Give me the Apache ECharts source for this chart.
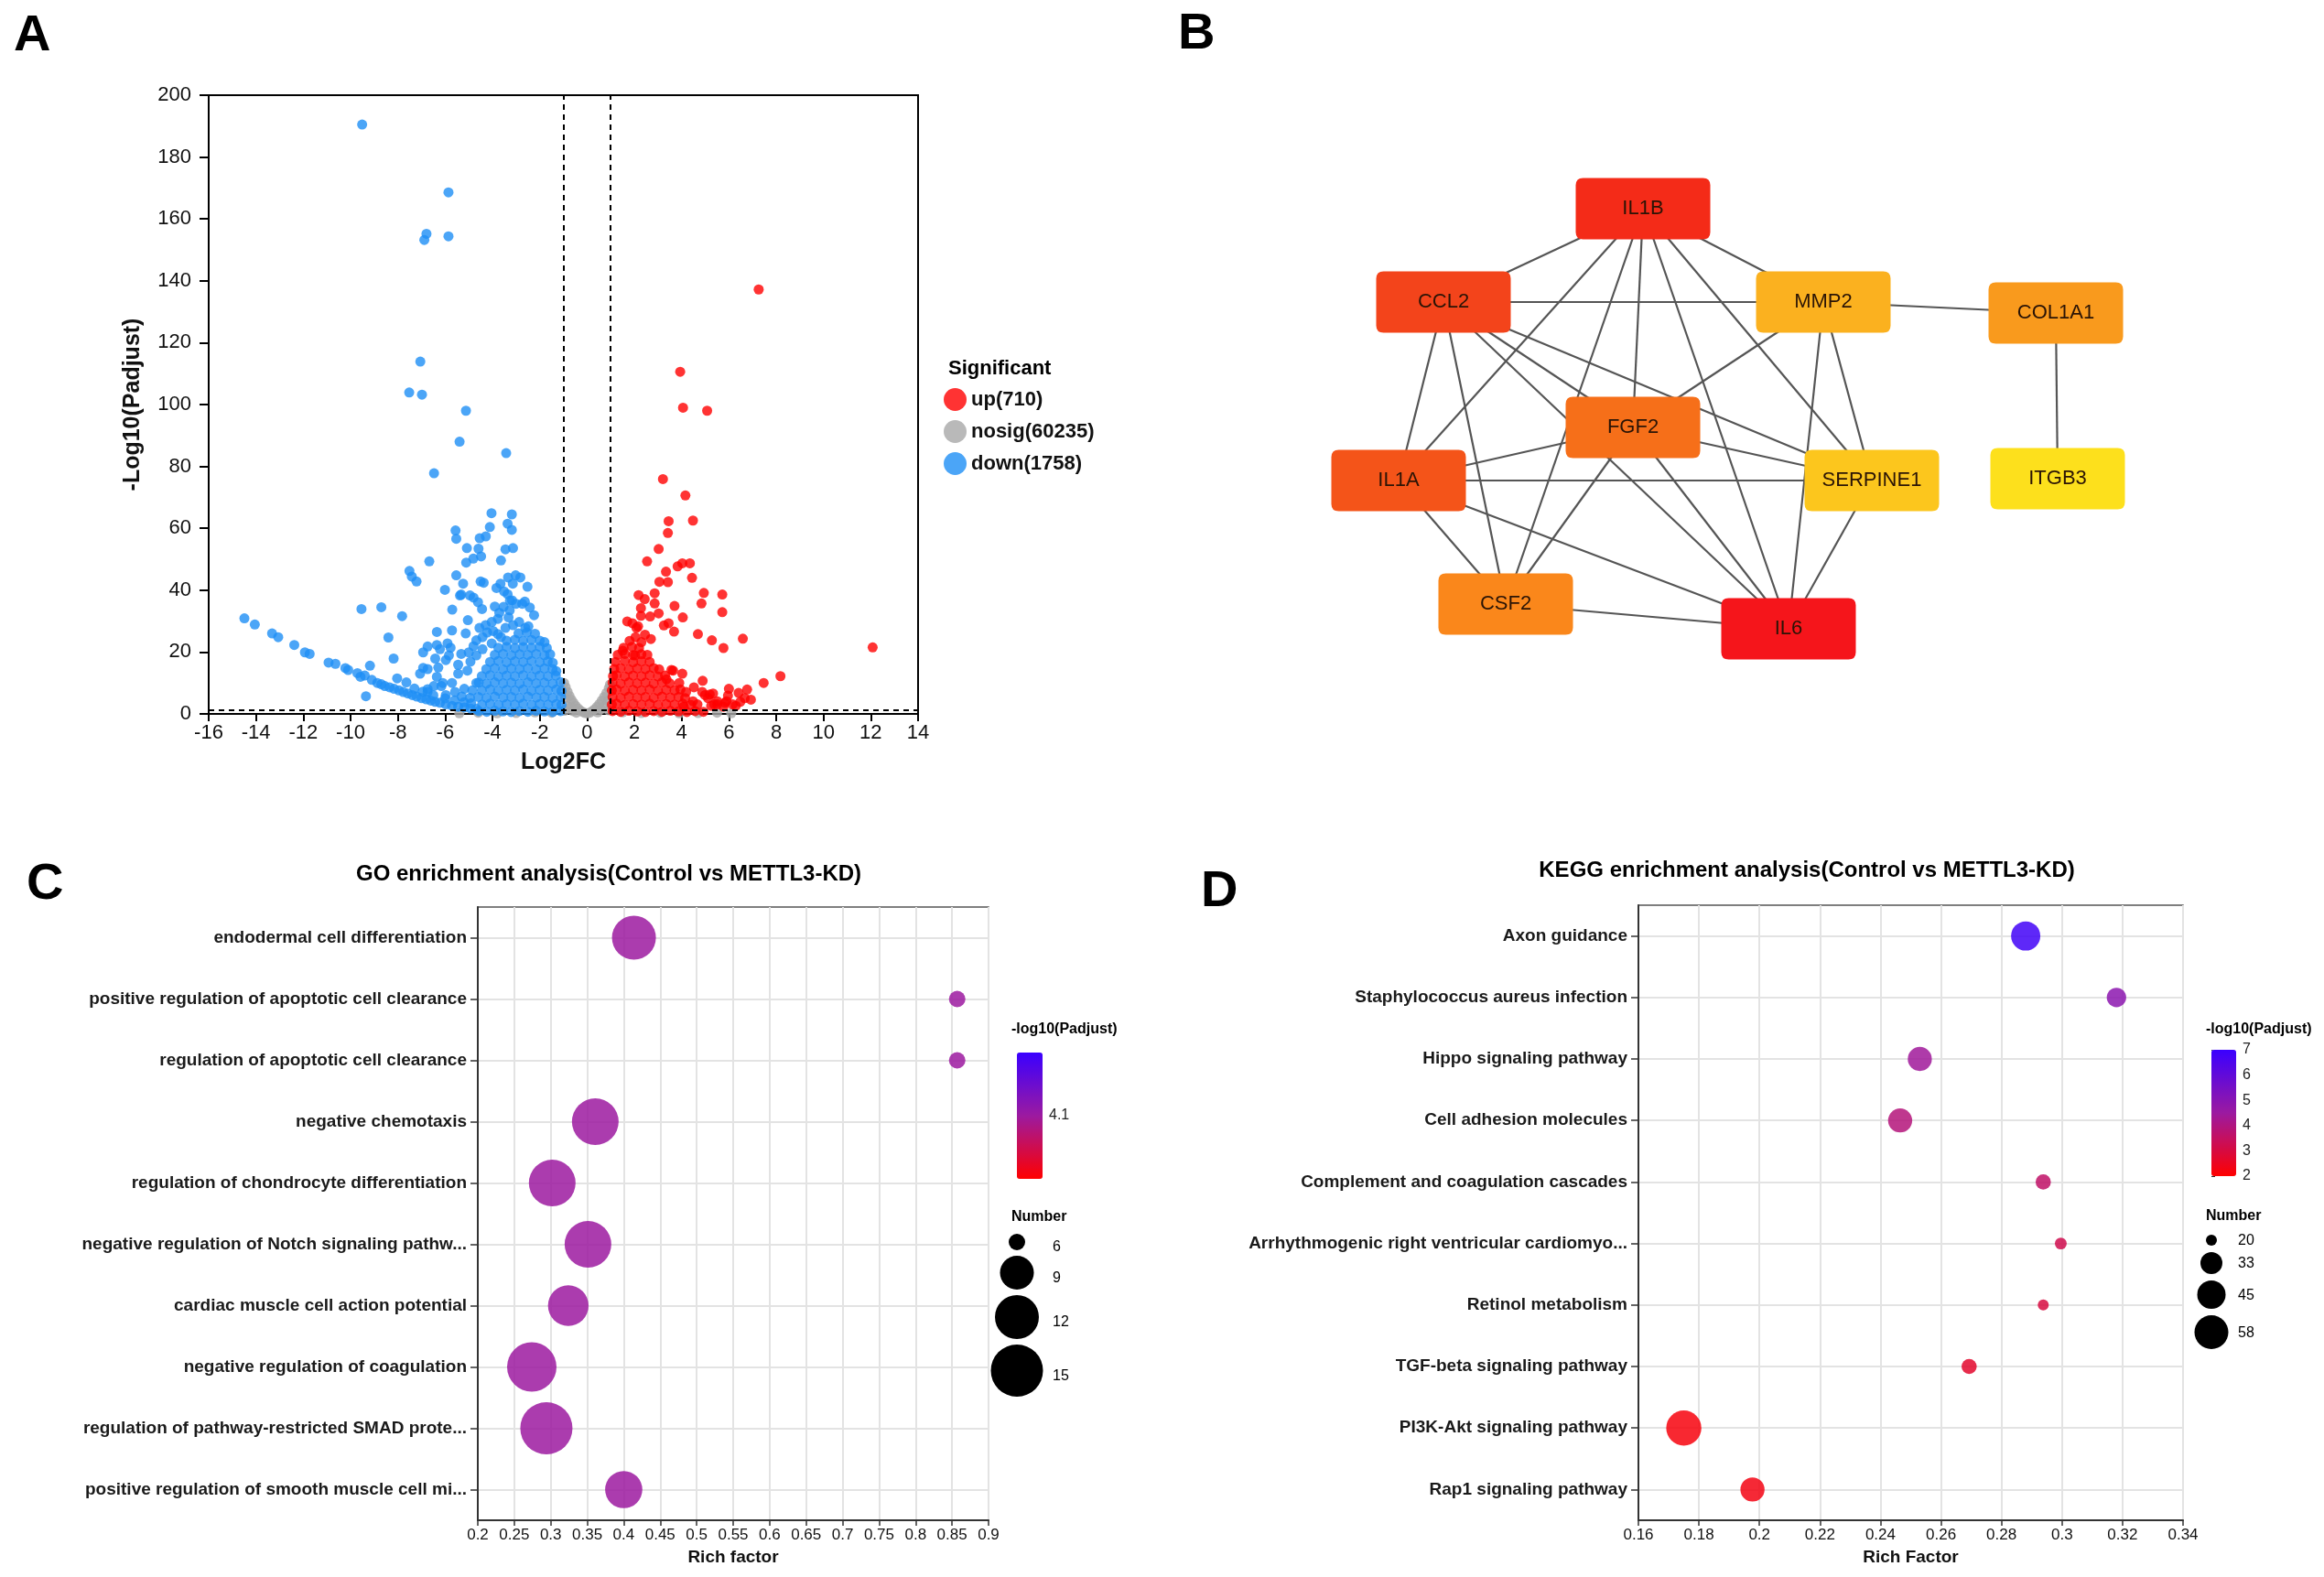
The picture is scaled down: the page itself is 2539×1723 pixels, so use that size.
<!DOCTYPE html>
<html><head><meta charset="utf-8">
<script src="https://cdn.jsdelivr.net/npm/echarts@6/dist/echarts.min.js"></script>
<style>html,body{margin:0;padding:0;background:#fff}#c{width:2539px;height:1723px}</style>
</head><body><div id="c"></div>
<script>
// ---------------- DATA ----------------
// Panel A: volcano plot points [log2FC, -log10(Padjust)]
const upName = 'up(710)', nosigName = 'nosig(60235)', downName = 'down(1758)';
const upPts = [
 [7.26,137.2],[12.08,21.5],[3.94,110.6],[4.06,99.0],[5.08,98.0],[3.21,75.9],[4.16,70.6],[3.45,62.3],[4.48,62.5],[3.42,58.5],
 [3.03,53.3],[2.54,49.3],[3.34,46.0],[3.06,42.7],[3.42,42.6],[3.83,47.7],[4.03,48.7],[4.35,48.7],[4.44,44.0],[2.86,39.0],
 [2.18,38.4],[2.44,37.1],[2.86,35.7],[2.28,34.2],[2.28,31.7],[2.67,31.5],[3.03,32.5],[3.7,34.9],[4.05,31.2],[4.94,39.1],
 [4.84,35.7],[5.72,38.6],[5.72,32.9],[1.7,29.9],[1.92,29.3],[2.16,28.3],[3.25,28.6],[3.45,29.3],[3.68,26.6],[4.69,25.8],
 [5.28,23.8],[5.77,21.3],[6.59,24.3],[8.18,12.2],[7.47,10.0],[6.77,7.9],[6.41,6.8],[6.0,8.1],[4.89,10.7],[4.52,8.6],
 [5.33,6.6],[4.99,6.1],[5.96,5.9],[6.67,5.1],[6.93,4.6],[6.48,3.9],[6.16,3.1],[5.77,2.3],[5.38,3.1],[3.64,14.0],
 [4.03,13.0],[4.87,7.1],[5.19,6.3],[5.83,3.6],[5.51,3.1],[1.51,20.4],[2.09,27.8],[3.57,14.2],[3.36,11.2],[3.9,10.0],
 [4.19,7.1],[4.48,4.1],[5.12,5.1],[4.67,3.1],[4.09,2.3],[5.9,4.1],[6.29,2.6],[5.25,2.6],[5.51,4.1],[1.8,23.6],
 [2.05,24.8],[2.3,23.2],[2.03,18.9],[2.45,25.6],[2.7,24.2],
 [1.08,0.9],[1.42,0.7],[1.77,1.0],[2.12,0.8],[2.47,0.6],[2.82,0.9],[3.17,0.7],[3.52,1.0],[3.87,0.8],[4.22,0.6],[4.57,0.9],[4.92,0.7],
 [1.05,3.0],[1.25,3.3],[1.6,2.9],[1.95,3.2],[2.3,3.0],[2.65,3.3],[3.0,2.9],[3.35,3.2],[3.7,3.0],[4.05,3.3],[4.4,2.9],
 [1.08,5.5],[1.42,5.2],[1.77,5.6],[2.12,5.3],[2.47,5.5],[2.82,5.2],[3.17,5.6],[3.52,5.3],[3.87,5.5],[4.15,5.1],
 [1.05,7.6],[1.25,7.9],[1.6,7.5],[1.95,7.8],[2.3,7.6],[2.65,7.9],[3.0,7.5],[3.35,7.8],[3.7,7.6],[3.95,7.9],
 [1.08,10.1],[1.42,9.8],[1.77,10.2],[2.12,9.9],[2.47,10.1],[2.82,9.8],[3.17,10.2],[3.5,9.9],
 [1.1,12.2],[1.25,12.5],[1.6,12.1],[1.95,12.4],[2.3,12.2],[2.65,12.5],[3.0,12.1],[3.3,12.4],
 [1.15,14.5],[1.42,14.8],[1.77,14.4],[2.12,14.7],[2.47,14.5],[2.82,14.8],[3.05,14.4],
 [1.2,16.8],[1.6,17.1],[1.95,16.7],[2.3,17.0],[2.65,16.8],
 [1.3,19.1],[1.6,19.4],[1.95,19.0],[2.3,19.3],[2.55,19.1],
 [1.55,21.4],[1.9,21.7],[2.2,21.3]
];
const downPts = [
 [-9.51,190.5],[-5.86,168.6],[-6.79,155.2],[-6.88,153.2],[-5.86,154.4],[-7.05,113.9],[-7.52,103.9],[-6.98,103.2],[-5.12,98.0],[-5.39,88.0],
 [-3.42,84.3],[-6.47,77.8],[-4.04,64.9],[-3.18,64.5],[-5.56,59.3],[-5.53,56.6],[-4.11,60.4],[-3.36,61.5],[-3.18,59.5],[-4.54,56.8],
 [-4.28,57.4],[-5.08,53.6],[-4.59,53.4],[-3.45,53.2],[-3.13,53.6],[-3.64,49.6],[-5.11,48.9],[-4.81,50.2],[-4.48,50.9],[-6.67,49.3],
 [-7.51,46.2],[-7.41,44.4],[-7.21,42.8],[-5.53,44.8],[-6.01,40.1],[-5.24,42.1],[-5.37,38.3],[-4.95,38.3],[-4.5,42.8],[-4.37,42.4],
 [-3.83,40.7],[-3.66,42.1],[-3.34,44.1],[-3.02,44.8],[-2.82,44.1],[-2.52,41.1],[-3.14,42.1],[-3.36,38.7],[-3.17,36.7],[-3.53,34.6],
 [-3.27,33.5],[-2.63,36.3],[-2.42,34.4],[-2.24,31.9],[-4.44,33.9],[-5.7,33.7],[-5.04,30.3],[-9.54,33.9],[-8.7,34.5],[-7.82,31.6],
 [-8.4,24.7],[-8.18,17.9],[-9.18,15.6],[-9.35,5.7],[-5.32,38.6],[-4.8,37.6],[-4.61,36.1],[-3.51,39.6],[-3.26,36.6],[-3.0,35.6],
 [-2.74,35.6],[-3.9,34.7],[-3.71,32.7],[-3.32,31.2],[-4.55,27.8],[-4.29,28.7],[-4.03,29.7],[-3.77,30.7],[-6.35,26.5],[-5.71,27.0],
 [-5.13,26.0],[-6.74,21.8],[-6.35,22.3],[-5.9,22.8],[-5.77,21.4],[-6.93,19.9],[-6.93,14.9],[-6.74,14.5],[-7.06,13.0],[-6.29,15.0],
 [-5.97,17.4],[-6.42,17.9],[-6.16,9.0],[-6.74,8.0],[-5.32,19.4],[-5.0,19.9],[-4.8,21.9],[-4.68,23.8],[-4.42,24.8],[-4.22,26.3],
 [-3.97,26.8],[-3.77,25.8],[-3.45,27.8],[-3.13,28.7],[-2.87,29.7],[-2.61,27.8],[-2.48,28.3],[-6.22,20.9],[-5.84,18.9],[-5.45,15.9],
 [-6.35,12.0],[-6.1,10.0],[-5.71,10.0],[-5.45,13.0],[-5.06,14.0],[-4.93,16.9],[-4.68,18.9],[-4.42,20.9],[-4.03,22.8],[-3.64,24.8],
 [-4.68,10.0],[-5.19,8.1],[-5.58,7.1],[-5.97,6.1],[-6.74,7.1],[-6.48,9.0],
 [-14.49,30.9],[-14.05,28.9],[-13.32,26.0],[-13.06,24.8],[-12.38,22.3],[-11.93,19.9],[-11.73,19.4],[-10.93,16.6],[-10.64,16.2],[-10.22,14.8],
 [-10.1,14.2],[-9.71,13.2],[-9.58,12.0],[-9.4,12.4],[-9.1,11.0],[-8.87,10.0],[-8.7,9.6],[-8.55,9.0],[-8.35,8.6],[-8.16,8.1],
 [-7.95,7.6],[-7.77,7.1],[-7.58,6.6],[-7.39,6.1],[-7.2,5.6],[-7.0,5.1],[-6.8,4.7],[-6.61,4.3],[-6.42,3.9],[-6.22,3.6],
 [-5.97,3.1],[-5.71,2.6],[-5.45,2.3],[-5.19,2.1],[-4.93,1.8],[-4.68,1.6],[-8.03,11.5],[-7.64,10.2],[-7.3,8.2],[-6.95,7.2],
 [-6.5,6.0],[-6.0,5.0],[-5.6,4.4],[-5.2,3.8],[-4.9,3.4],[-5.3,5.6],[-4.95,5.2],[-4.85,7.6],
 [-4.58,0.9],[-4.24,0.7],[-3.9,1.0],[-3.56,0.8],[-3.21,0.6],[-2.86,0.9],[-2.5,0.7],[-2.16,1.0],[-1.8,0.8],[-1.45,0.6],[-1.12,0.9],
 [-4.44,3.0],[-4.1,3.3],[-3.74,2.9],[-3.4,3.2],[-3.05,3.0],[-2.7,3.3],[-2.34,2.9],[-2.0,3.2],[-1.64,3.0],[-1.3,3.2],[-1.08,2.9],
 [-4.6,5.5],[-4.25,5.2],[-3.9,5.6],[-3.54,5.3],[-3.2,5.5],[-2.85,5.2],[-2.5,5.6],[-2.14,5.3],[-1.8,5.5],[-1.45,5.2],[-1.1,5.5],
 [-4.45,7.6],[-4.1,7.9],[-3.76,7.5],[-3.4,7.8],[-3.05,7.6],[-2.7,7.9],[-2.35,7.5],[-2.0,7.8],[-1.65,7.6],[-1.3,7.9],[-1.08,7.4],
 [-4.58,10.1],[-4.25,9.8],[-3.9,10.2],[-3.55,9.9],[-3.2,10.1],[-2.85,9.8],[-2.5,10.2],[-2.15,9.9],[-1.8,10.1],[-1.45,9.8],[-1.12,10.3],
 [-4.45,12.2],[-4.1,12.5],[-3.75,12.1],[-3.4,12.4],[-3.05,12.2],[-2.7,12.5],[-2.35,12.1],[-2.0,12.4],[-1.65,12.2],[-1.32,12.4],
 [-4.26,14.5],[-3.9,14.8],[-3.55,14.4],[-3.2,14.7],[-2.85,14.5],[-2.5,14.8],[-2.15,14.4],[-1.8,14.7],[-1.46,14.5],[-1.3,13.8],
 [-4.1,16.8],[-3.75,17.1],[-3.4,16.7],[-3.05,17.0],[-2.7,16.8],[-2.35,17.1],[-2.0,16.7],[-1.66,17.0],[-1.45,16.5],
 [-3.9,19.1],[-3.55,19.4],[-3.2,19.0],[-2.85,19.3],[-2.5,19.1],[-2.15,19.4],[-1.8,19.0],[-1.56,19.3],
 [-3.75,21.4],[-3.4,21.7],[-3.05,21.3],[-2.7,21.6],[-2.35,21.4],[-2.0,21.7],[-1.7,21.3],
 [-3.4,23.7],[-3.05,24.0],[-2.7,23.6],[-2.35,23.9],[-2.0,23.7],[-1.8,23.2],
 [-2.9,26.0],[-2.55,26.3],[-2.2,25.9]
];
const nosigPts = [
 [-0.97,10.0],[-0.9,8.6],[-0.82,7.1],[-0.74,5.8],[-0.66,4.6],[-0.57,3.6],[-0.48,2.6],[-0.38,1.8],[-0.28,1.1],[-0.18,0.6],
 [-0.08,0.3],[0.02,0.2],[0.12,0.4],[0.22,0.9],[0.32,1.5],[0.42,2.3],[0.52,3.2],[0.62,4.3],[0.72,5.5],[0.82,6.8],
 [0.92,8.3],[0.97,9.5],[-0.92,5.2],[-0.86,2.6],[-0.7,2.1],[-0.6,0.9],[-0.45,0.4],[-0.95,1.0],[0.45,0.5],[0.6,1.5],
 [0.75,2.6],[0.88,4.1],[0.9,1.2],[-5.4,0.2],[-4.6,0.4],[-3.8,0.2],[-3.0,0.3],[-2.2,0.5],[-1.5,0.4],[1.5,0.5],
 [2.3,0.3],[3.1,0.4],[3.9,0.2],[4.7,0.3],[5.5,0.4],[6.1,0.2]
];
const log2fcCut = [-1, 1];
const padjCut = 1.3;

// Panel B: PPI network
const genes = ['IL1B','CCL2','MMP2','COL1A1','FGF2','IL1A','SERPINE1','ITGB3','CSF2','IL6'];
const edges = [
 ['IL1B','CCL2'],['IL1B','MMP2'],['IL1B','IL1A'],['IL1B','CSF2'],['IL1B','FGF2'],['IL1B','IL6'],['IL1B','SERPINE1'],
 ['CCL2','MMP2'],['CCL2','IL1A'],['CCL2','CSF2'],['CCL2','FGF2'],['CCL2','IL6'],['CCL2','SERPINE1'],
 ['MMP2','FGF2'],['MMP2','IL6'],['MMP2','SERPINE1'],['MMP2','COL1A1'],['COL1A1','ITGB3'],
 ['FGF2','IL1A'],['FGF2','SERPINE1'],['FGF2','IL6'],['FGF2','CSF2'],
 ['IL1A','SERPINE1'],['IL1A','CSF2'],['IL1A','IL6'],['CSF2','IL6'],['SERPINE1','IL6']
];

// Panel C: GO enrichment
const goTerms = ['endodermal cell differentiation','positive regulation of apoptotic cell clearance','regulation of apoptotic cell clearance',
 'negative chemotaxis','regulation of chondrocyte differentiation','negative regulation of Notch signaling pathw...',
 'cardiac muscle cell action potential','negative regulation of coagulation','regulation of pathway-restricted SMAD prote...',
 'positive regulation of smooth muscle cell mi...'];
const goRich = [0.414,0.857,0.857,0.361,0.302,0.351,0.324,0.274,0.294,0.400];
const goNumber = [12,6,6,13,13,13,11,14,15,10];
const goPadj = [4.1,4.1,4.1,4.1,4.1,4.1,4.1,4.1,4.1,4.1];
const goNumberTicks = [6,9,12,15];
const goPadjTicks = [4.1];

// Panel D: KEGG enrichment
const keggTerms = ['Axon guidance','Staphylococcus aureus infection','Hippo signaling pathway','Cell adhesion molecules',
 'Complement and coagulation cascades','Arrhythmogenic right ventricular cardiomyo...','Retinol metabolism',
 'TGF-beta signaling pathway','PI3K-Akt signaling pathway','Rap1 signaling pathway'];
const keggRich = [0.288,0.318,0.253,0.2465,0.2938,0.2996,0.2938,0.2693,0.175,0.1977];
const keggNumber = [47,30,37,37,25,21,20,25,61,37];
const keggPadj = [6.8,4.9,4.4,3.9,3.6,3.2,3.0,2.7,2.2,2.3];
const keggNumberTicks = [20,33,45,58];

// ---------------- STYLE / LAYOUT ----------------
const FF = "'Liberation Sans', Arial, Helvetica, sans-serif";
const nodeLayout = { // network layout positions (px)
 IL1B:[1795,228], CCL2:[1577,330], MMP2:[1992,330], COL1A1:[2246,342], FGF2:[1784,467],
 IL1A:[1528,525], SERPINE1:[2045,525], ITGB3:[2248,523], CSF2:[1645,660], IL6:[1954,687]
};
const nodeColors = {IL1B:'#f42b18', CCL2:'#f3441b', MMP2:'#fbb11f', COL1A1:'#f99a1d', FGF2:'#f66f19',
 IL1A:'#f45419', SERPINE1:'#fcc61d', ITGB3:'#fde01c', CSF2:'#fa871b', IL6:'#f5151b'};
const goSizePx = [18,37,48,57];
const keggSizePx = [12,24,31,37];
const gradColors = ['#ff0000','#9c1aa0','#3a00ff'];
const volcanoDot = 11;

function sizeScale(keys, px){
  return function(v){
    let i = 0;
    while (i < keys.length - 2 && v > keys[i+1]) i++;
    return px[i] + (v - keys[i]) * (px[i+1]-px[i]) / (keys[i+1]-keys[i]);
  };
}
const goSize = sizeScale(goNumberTicks, goSizePx);
const keggSize = sizeScale(keggNumberTicks, keggSizePx);

function fmt(v){ return String(parseFloat(v.toFixed(2))); }

// ---------------- GRAPHIC (texts / size legends) ----------------
const graphic = [];
function txt(x, y, s, size, weight, align){
  graphic.push({type:'text', x:x, y:y, silent:true, z:100, style:{text:s, fontSize:size, fontWeight:weight||'normal',
    fontFamily:FF, fill:'#000', align:align||'left', textAlign:align||'left', verticalAlign:'middle', textVerticalAlign:'middle'}});
}
txt(15, 40, 'A', 56, 'bold');
txt(1287, 38, 'B', 56, 'bold');
txt(29, 967, 'C', 56, 'bold');
txt(1312, 975, 'D', 56, 'bold');
txt(665, 955, 'GO enrichment analysis(Control vs METTL3-KD)', 24, 'bold', 'center');
txt(1974, 951, 'KEGG enrichment analysis(Control vs METTL3-KD)', 24, 'bold', 'center');
txt(1036, 403, 'Significant', 22, 'bold');
txt(1105, 1125, '-log10(Padjust)', 16, 'bold');
txt(2410, 1125, '-log10(Padjust)', 16, 'bold');

function sizeLegend(keys, scale, cx, titleX, titleY, firstTop, gap, labelX, labelDy){
  txt(titleX, titleY, 'Number', 16, 'bold');
  let top = firstTop;
  keys.forEach(k => {
    const d = scale(k);
    const cy = top + d/2;
    graphic.push({type:'circle', silent:true, shape:{cx:cx, cy:cy, r:d/2}, style:{fill:'#000'}});
    txt(labelX, cy + labelDy, String(k), 16, 'normal');
    top += d + gap;
  });
}
sizeLegend(goNumberTicks, goSize, 1111, 1105, 1330, 1348, 6, 1150, 6);
sizeLegend(keggNumberTicks, keggSize, 2416, 2410, 1329, 1349, 7, 2445, 1);

// ---------------- CHART ----------------
const chart = echarts.init(document.getElementById('c'), null, {renderer:'canvas'});

const axisFont = {fontFamily:FF, color:'#111'};
const option = {
  backgroundColor:'#fff',
  animation:false,
  graphic: graphic,
  legend: {data:[upName, nosigName, downName], orient:'vertical', left:1031, top:424, padding:0,
    itemWidth:25, itemHeight:25, itemGap:10, icon:'circle', selectedMode:false,
    textStyle:{fontSize:22, fontWeight:'bold', color:'#111', fontFamily:FF}},
  grid: [
    {left:228, top:104, width:775, height:676, show:true, borderColor:'#000', borderWidth:2},
    {left:522, top:991, width:558, height:670, show:true, borderColor:'#555', borderWidth:1.5},
    {left:1790, top:989, width:595, height:672, show:true, borderColor:'#555', borderWidth:1.5},
    {left:1111, top:1150, width:28, height:138},
    {left:2416, top:1147, width:27, height:138}
  ],
  xAxis: [
    {gridIndex:0, type:'value', min:-16, max:14, interval:2,
      axisLine:{show:true, onZero:false, lineStyle:{color:'#000', width:2}},
      axisTick:{show:true, length:8, lineStyle:{color:'#000', width:2}},
      axisLabel:Object.assign({fontSize:22, margin:10}, axisFont), splitLine:{show:false},
      name:'Log2FC', nameLocation:'middle', nameGap:41,
      nameTextStyle:{fontSize:25, fontWeight:'bold', color:'#111', fontFamily:FF}},
    {gridIndex:1, type:'value', min:0.2, max:0.9, interval:0.05,
      axisLine:{show:true, onZero:false, lineStyle:{color:'#333', width:2}},
      axisTick:{show:true, length:6, lineStyle:{color:'#333', width:1.5}},
      axisLabel:Object.assign({fontSize:17, margin:8, formatter:fmt}, axisFont),
      splitLine:{show:true, lineStyle:{color:'#e3e3e3', width:2}},
      name:'Rich factor', nameLocation:'middle', nameGap:31,
      nameTextStyle:{fontSize:19, fontWeight:'bold', color:'#111', fontFamily:FF}},
    {gridIndex:2, type:'value', min:0.16, max:0.34, interval:0.02,
      axisLine:{show:true, onZero:false, lineStyle:{color:'#333', width:2}},
      axisTick:{show:true, length:6, lineStyle:{color:'#333', width:1.5}},
      axisLabel:Object.assign({fontSize:17, margin:8, formatter:fmt}, axisFont),
      splitLine:{show:true, lineStyle:{color:'#e3e3e3', width:2}},
      name:'Rich Factor', nameLocation:'middle', nameGap:31,
      nameTextStyle:{fontSize:19, fontWeight:'bold', color:'#111', fontFamily:FF}},
    {gridIndex:3, type:'value', min:0, max:1, show:false},
    {gridIndex:4, type:'value', min:0, max:1, show:false}
  ],
  yAxis: [
    {gridIndex:0, type:'value', min:0, max:200, interval:20,
      axisLine:{show:true, onZero:false, lineStyle:{color:'#000', width:2}},
      axisTick:{show:true, length:10, lineStyle:{color:'#000', width:2}},
      axisLabel:Object.assign({fontSize:22, margin:19}, axisFont), splitLine:{show:false},
      name:'-Log10(Padjust)', nameLocation:'middle', nameGap:70,
      nameTextStyle:{fontSize:25, fontWeight:'bold', color:'#111', fontFamily:FF}},
    {gridIndex:1, type:'category', data:goTerms, inverse:true,
      axisLine:{show:true, lineStyle:{color:'#333', width:2}},
      axisTick:{show:true, alignWithLabel:true, interval:0, length:8, lineStyle:{color:'#333', width:1.5}},
      axisLabel:{interval:0, fontSize:19, fontWeight:'bold', color:'#1a1a1a', margin:12, fontFamily:FF},
      splitLine:{show:true, alignWithLabel:true, interval:0, lineStyle:{color:'#e3e3e3', width:2}}},
    {gridIndex:2, type:'category', data:keggTerms, inverse:true,
      axisLine:{show:true, lineStyle:{color:'#333', width:2}},
      axisTick:{show:true, alignWithLabel:true, interval:0, length:8, lineStyle:{color:'#333', width:1.5}},
      axisLabel:{interval:0, fontSize:19, fontWeight:'bold', color:'#1a1a1a', margin:12, fontFamily:FF},
      splitLine:{show:true, alignWithLabel:true, interval:0, lineStyle:{color:'#e3e3e3', width:2}}},
    {gridIndex:3, type:'value', min:4.0, max:4.2, position:'right',
      axisLine:{show:false}, splitLine:{show:false},
      axisTick:{show:true, length:4, customValues:goPadjTicks, lineStyle:{color:'#333'}},
      axisLabel:{customValues:goPadjTicks, fontSize:16, color:'#222', margin:7, fontFamily:FF, formatter:v=>v.toFixed(1)}},
    {gridIndex:4, type:'value', min:2, max:7, interval:1, position:'right',
      axisLine:{show:false}, splitLine:{show:false},
      axisTick:{show:true, length:4, lineStyle:{color:'#333'}},
      axisLabel:{fontSize:16, color:'#222', margin:7, fontFamily:FF}}
  ],
  visualMap: [
    {type:'continuous', seriesIndex:4, dimension:3, min:4.0, max:4.2, left:1111, top:1150, padding:0,
      itemWidth:28, itemHeight:138, calculable:false, text:null, hoverLink:false, orient:'vertical',
      inRange:{color:gradColors}},
    {type:'continuous', seriesIndex:5, dimension:3, min:2, max:7, left:2416, top:1147, padding:0,
      itemWidth:27, itemHeight:138, calculable:false, text:null, hoverLink:false, orient:'vertical',
      inRange:{color:gradColors}}
  ],
  series: [
    {name:nosigName, type:'scatter', xAxisIndex:0, yAxisIndex:0, data:nosigPts, symbolSize:volcanoDot,
      itemStyle:{color:'#a8a8a8'}, silent:true},
    {name:downName, type:'scatter', xAxisIndex:0, yAxisIndex:0, data:downPts, symbolSize:volcanoDot,
      itemStyle:{color:'#1e8ff5'}, silent:true},
    {name:upName, type:'scatter', xAxisIndex:0, yAxisIndex:0, data:upPts, symbolSize:volcanoDot,
      itemStyle:{color:'#ff0000'}, silent:true,
      markLine:{silent:true, symbol:'none', label:{show:false},
        lineStyle:{type:[6,5], color:'#000', width:2},
        data:[{xAxis:log2fcCut[0]},{xAxis:log2fcCut[1]},{yAxis:padjCut}]}},
    {type:'graph', layout:'none', left:1528, top:228, width:720, height:459, roam:false, silent:true,
      symbol:'path://M8,0 H139 Q147,0 147,8 V59 Q147,67 139,67 H8 Q0,67 0,59 V8 Q0,0 8,0 Z',
      symbolSize:[147,67],
      label:{show:true, position:'inside', fontSize:22, color:'#2a1406', fontFamily:FF},
      lineStyle:{color:'#555', width:2.2, opacity:1, curveness:0},
      data: genes.map(g => ({name:g, x:nodeLayout[g][0], y:nodeLayout[g][1], itemStyle:{color:nodeColors[g]}})),
      links: edges.map(e => ({source:e[0], target:e[1]}))},
    {type:'scatter', xAxisIndex:1, yAxisIndex:1, silent:true,
      data: goTerms.map((t,i) => [goRich[i], t, goNumber[i], goPadj[i]]),
      symbolSize: v => goSize(v[2]), itemStyle:{opacity:0.85}},
    {type:'scatter', xAxisIndex:2, yAxisIndex:2, silent:true,
      data: keggTerms.map((t,i) => [keggRich[i], t, keggNumber[i], keggPadj[i]]),
      symbolSize: v => keggSize(v[2]), itemStyle:{opacity:0.85}}
  ]
};
chart.setOption(option);
</script></body></html>
